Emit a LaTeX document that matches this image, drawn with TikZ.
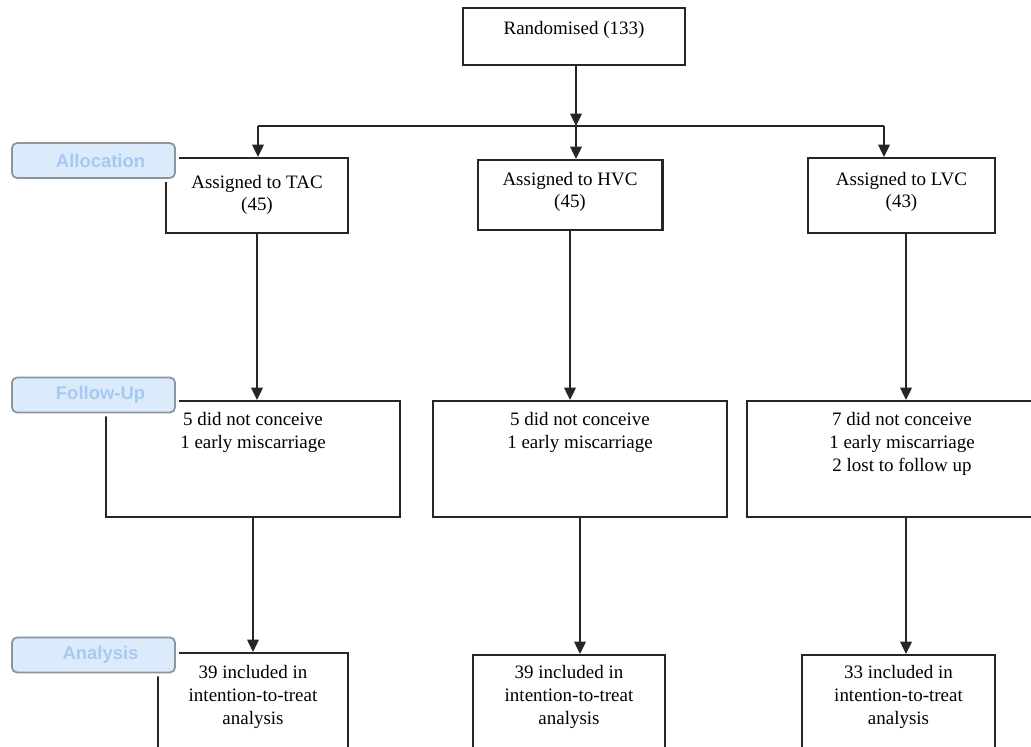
\documentclass[tikz,border=0pt]{standalone}
\usepackage{fontspec}
\setmainfont{Liberation Serif}
\newfontfamily\stagefont{Liberation Sans}
\usetikzlibrary{shapes, arrows.meta}

\definecolor{stagefill}{HTML}{DCEBFB}
\definecolor{stagetext}{HTML}{A6C9F2}
\definecolor{stageline}{HTML}{8C959C}

\begin{document}
\begin{tikzpicture}[x=0.02cm, y=-0.02cm,
	box/.style={rectangle, draw=black!85, line width=1.15pt, inner sep=0pt},
	txt/.style={align=center, inner sep=0pt, font=\fontsize{10.8}{13}\selectfont},
	stage/.style={rectangle, rounded corners=0.1cm, draw=stageline, line width=1pt, fill=stagefill,
		minimum width=3.26cm, minimum height=0.7cm, text=stagetext,
		font=\stagefont\bfseries\fontsize{10.5}{12}\selectfont,
		preaction={draw=white, line width=4.5pt}},
	arr/.style={-{Triangle[length=7pt, width=6.5pt]}, draw=black!85, line width=1.15pt}]
	\useasboundingbox (0,0) rectangle (1031,747);
	\clip (0,0) rectangle (1031,747);

	% top
	\node at (574,36.5) [box, minimum width=4.44cm, minimum height=1.14cm] (rand) {};
	\node at (574,30) [txt] (randt) {Randomised (133)};

	% allocation
	\node at (257,195.5) [box, minimum width=3.64cm, minimum height=1.5cm] (tac) {};
	\node at (257,195) [txt] (tact) {Assigned to TAC\\(45)};
	\node at (570,195) [box, minimum width=3.7cm, minimum height=1.4cm] (hvc) {};
	\node at (570,192) [txt] (hvct) {Assigned to HVC\\(45)};
	\node at (901.5,195.5) [box, minimum width=3.74cm, minimum height=1.5cm] (lvc) {};
	\node at (901.5,192) [txt] (lvct) {Assigned to LVC\\(43)};

	% follow-up
	\node at (253,459) [box, minimum width=5.9cm, minimum height=2.32cm] (fu1) {};
	\node at (253,432.5) [txt] (fu1t) {5 did not conceive\\1 early miscarriage};
	\node at (580,459) [box, minimum width=5.9cm, minimum height=2.32cm] (fu2) {};
	\node at (580,432.5) [txt] (fu2t) {5 did not conceive\\1 early miscarriage};
	\node at (906,459) [box, minimum width=6.36cm, minimum height=2.32cm] (fu3) {};
	\node at (902,444) [txt] (fu3t) {7 did not conceive\\1 early miscarriage\\2 lost to follow up};

	% analysis
	\node at (253,713) [box, minimum width=3.82cm, minimum height=2.4cm] (an1) {};
	\node at (253,697) [txt] (an1t) {39 included in\\intention-to-treat\\analysis};
	\node at (569,715) [box, minimum width=3.84cm, minimum height=2.4cm] (an2) {};
	\node at (569,697) [txt] (an2t) {39 included in\\intention-to-treat\\analysis};
	\node at (898.5,715) [box, minimum width=3.86cm, minimum height=2.4cm] (an3) {};
	\node at (898.5,697) [txt] (an3t) {33 included in\\intention-to-treat\\analysis};

	% connectors
	\coordinate (split) at (576,126);
	\coordinate (splitl) at (258,126);
	\coordinate (splitr) at (884,126);
	\draw[arr] (rand.south -| split) -- (split);
	\draw[draw=black!85, line width=1.15pt] (splitl) -- (splitr);
	\draw[arr] (splitl) -- (splitl |- tac.north);
	\draw[arr] (split) -- (split |- hvc.north);
	\draw[arr] (splitr) -- (splitr |- lvc.north);
	\draw[arr] (tac.south) -- (tac.south |- fu1.north);
	\draw[arr] (hvc.south) -- (hvc.south |- fu2.north);
	\draw[arr] (lvc.south -| fu3.north) -- (fu3.north);
	\draw[arr] (fu1.south) -- (an1.north);
	\draw[arr] (fu2.south) -- (fu2.south |- an2.north);
	\draw[arr] (fu3.south) -- (fu3.south |- an3.north);

	% stage labels
	\node at (93.5,160.5) [stage] (alloc) {\hspace{8pt}Allocation};
	\node at (93.5,395) [stage] (follow) {\hspace{8pt}Follow-Up};
	\node at (93.5,655) [stage] (analysis) {\hspace{8pt}Analysis};
\end{tikzpicture}
\end{document}
